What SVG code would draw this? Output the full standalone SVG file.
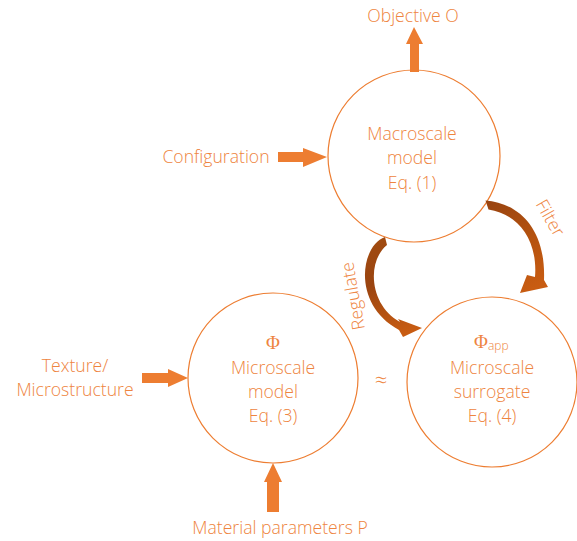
<svg xmlns="http://www.w3.org/2000/svg" width="577" height="541" viewBox="0 0 577 541">
<defs>
<style>
.t{font-family:"Open Sans","Segoe UI","Noto Sans",sans-serif;font-weight:300;font-size:17.6px;fill:#EE8440;text-anchor:middle}
.s{font-family:"Liberation Serif","DejaVu Serif",serif;font-size:19px;fill:#EE8440}
.c{fill:#FFFFFF;stroke:#ED7D31;stroke-width:1.2}
.a{fill:#ED7D31}
</style>
<linearGradient id="gF" x1="486" y1="205" x2="530" y2="290" gradientUnits="userSpaceOnUse">
<stop offset="0" stop-color="#9A4410"/>
<stop offset="0.5" stop-color="#B4520F"/>
<stop offset="1" stop-color="#C85C12"/>
</linearGradient>
<linearGradient id="gR" x1="386" y1="240" x2="415" y2="330" gradientUnits="userSpaceOnUse">
<stop offset="0" stop-color="#A04A10"/>
<stop offset="0.4" stop-color="#9A4410"/>
<stop offset="1" stop-color="#C85C12"/>
</linearGradient>
</defs>
<g id="macro">
<circle class="c" cx="414" cy="156" r="86"/>
<text class="t" x="412" y="140">Macroscale</text>
<text class="t" x="412" y="164">model</text>
<text class="t" x="412" y="189">Eq. (1)</text>
</g>
<g id="micro">
<circle class="c" cx="273" cy="378" r="85"/>
<text class="s" x="273" y="349" text-anchor="middle">Φ</text>
<text class="t" x="273" y="374">Microscale</text>
<text class="t" x="273" y="398">model</text>
<text class="t" x="273" y="422">Eq. (3)</text>
</g>
<g id="surrogate">
<circle class="c" cx="492" cy="382" r="85"/>
<text class="s" x="474" y="348">Φ<tspan font-family="Open Sans, sans-serif" font-weight="300" font-size="12" dy="2">app</tspan></text>
<text class="t" x="492" y="374">Microscale</text>
<text class="t" x="492" y="398">surrogate</text>
<text class="t" x="492" y="422">Eq. (4)</text>
</g>
<g id="objective"><text class="t" x="413" y="22">Objective O</text></g>
<g id="configuration"><text class="t" x="216" y="163">Configuration</text></g>
<g id="texture"><text class="t" x="75" y="372">Texture/</text><text class="t" x="75" y="396">Microstructure</text></g>
<g id="material"><text class="t" x="280" y="534">Material parameters P</text></g>
<g id="approx"><text class="t" x="381" y="388" style="font-size:22px">≈</text></g>
<g id="connectors">
<polygon class="a" points="410,72 410,44 406,44 414,27 423,44 419,44 419,72"/>
<polygon class="a" points="278,152 303,152 303,148 327,157 303,167 303,162 278,162"/>
<polygon class="a" points="142,373 168,373 168,369 188,378 168,387 168,383 142,383"/>
<polygon class="a" points="267,512 267,482 264,482 273,463 282,482 279,482 279,512"/>
<path fill="url(#gF)" d="M485.5 200.5 C518 203 546 228 544 280 L548 287 L520 293 L527 275 L535 277 C538 240 518 214 488.5 209.5 Z"/>
<path fill="url(#gR)" d="M385 237 C360 246 352 305 399 330 L403 337 L422 328 L398 319 L400 322 C370 306 366 262 387 245 Z"/>
<text class="t" transform="translate(545,221) rotate(60)">Filter</text>
<text class="t" transform="translate(359,295) rotate(-100)">Regulate</text>
</g>
</svg>
